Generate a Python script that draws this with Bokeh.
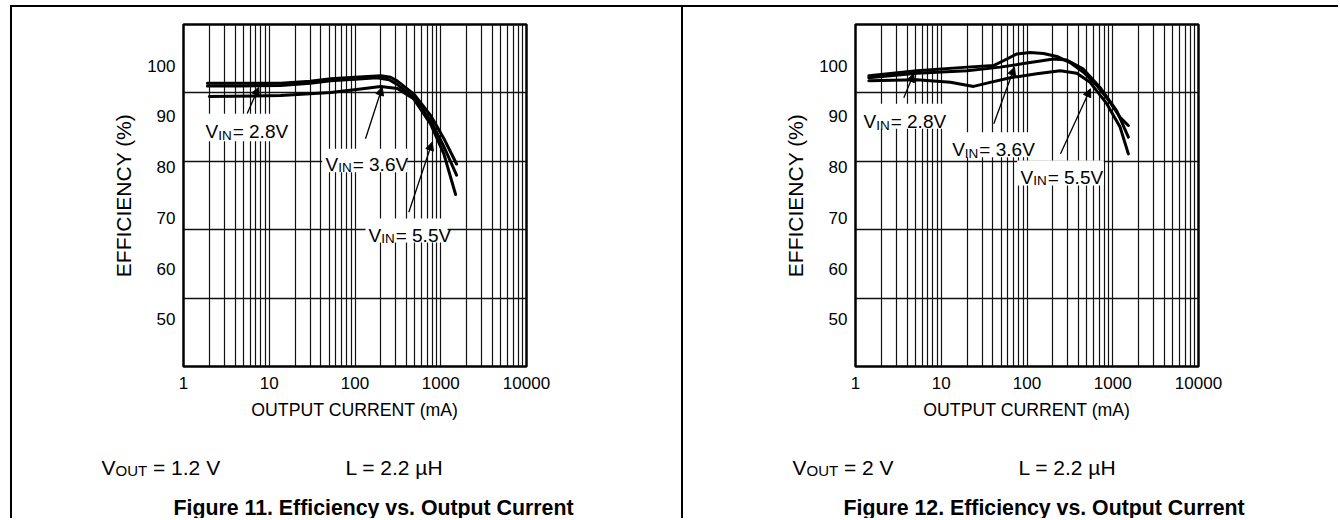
import math
from bokeh.plotting import figure
from bokeh.layouts import row, column
from bokeh.models import (Range1d, FixedTicker, NumeralTickFormatter, Label, Arrow,
                          NormalHead, BoxAnnotation, Spacer)
from bokeh.embed import file_html
from bokeh.resources import INLINE

# ------------------------------------------------------------------ data
X_TICKS = [1, 10, 100, 1000, 10000]
X_TICK_LABELS = ["1", "10", "100", "1000", "10000"]
Y_TICKS = [50, 60, 70, 80, 90, 100]
Y_TICK_LABELS = ["50", "60", "70", "80", "90", "100"]
X_LABEL = "OUTPUT CURRENT (mA)"
Y_LABEL = "EFFICIENCY (%)"
VIN_LABELS = ["2.8V", "3.6V", "5.5V"]

# Figure 11 : VOUT = 1.2 V
fig11_vin28_ma = [1.9, 4.7, 13.6, 30, 52, 100, 200, 260, 310, 490, 760, 1090, 1530]
fig11_vin28_eff = [96.5, 96.5, 96.5, 96.9, 97.4, 97.7, 98.0, 97.7, 97.0, 94.3, 90.2, 85.6, 80.6]
fig11_vin36_ma = [1.9, 4.7, 13.6, 30, 52, 100, 180, 250, 310, 490, 760, 1090, 1530]
fig11_vin36_eff = [96.0, 96.0, 96.1, 96.5, 97.0, 97.3, 97.6, 97.2, 96.3, 93.6, 89.2, 84.0, 78.4]
fig11_vin55_ma = [2.0, 13.6, 52, 116, 199, 312, 486, 760, 1087, 1490]
fig11_vin55_eff = [93.9, 94.1, 94.7, 95.4, 95.9, 95.5, 93.4, 88.5, 82.6, 74.6]

# Figure 12 : VOUT = 2 V
fig12_vin28_ma = [1.43, 5.2, 20, 40.7, 58.3, 76.2, 109, 156, 223, 318, 455, 651, 930, 1217, 1521]
fig12_vin28_eff = [98.0, 99.0, 99.7, 100.0, 101.3, 102.3, 102.6, 102.4, 101.8, 100.6, 98.7, 96.1, 92.8, 89.8, 88.2]
fig12_vin36_ma = [1.43, 5.2, 20, 48.8, 99.7, 204, 291, 455, 711, 1113, 1521]
fig12_vin36_eff = [97.6, 98.5, 99.0, 99.7, 100.5, 101.3, 101.1, 99.3, 95.7, 91.1, 85.9]
fig12_vin55_ma = [1.43, 5.2, 12.8, 23.8, 37.3, 63.7, 130, 244, 381, 544, 851, 1217, 1521]
fig12_vin55_eff = [97.0, 97.2, 96.7, 95.9, 96.7, 97.6, 98.4, 99.0, 98.5, 96.7, 92.5, 87.9, 82.6]

VOUT_TEXTS = ["1.2 V", "2 V"]
L_TEXT = "L = 2.2 \u00b5H"
CAPTIONS = ["Figure 11. Efficiency vs. Output Current",
            "Figure 12. Efficiency vs. Output Current"]

# ------------------------------------------------------------------ layout / style
FONT = "Liberation Sans"
TOP_GAP = 5          # page y of the top rule
RULE = 2             # rule thickness
LEFT_GAP = 10        # page x of the left rule
CONTENT_TOP = TOP_GAP + RULE
MAIN_H = 423         # plot figure height  (page y 7 .. 430)
NOTES_H = 88         # notes figure height (page y 430 .. 518)
FRAME_W = 343
FRAME_H = 342
FRAME_TOP = 24                      # page y of the plot frame top
FRAME_BOTTOM = FRAME_TOP + FRAME_H  # page y of the plot frame bottom
NOTES_BOTTOM = CONTENT_TOP + MAIN_H + NOTES_H
Y_START, Y_END = 40.7, 108.1

AW = {'V': 667, 'I': 278, 'N': 722, 'O': 778, 'U': 722, 'T': 611, 'L': 556, ' ': 278,
      '=': 584, '.': 278, '\u00b5': 576, 'H': 722}
for _d in "0123456789":
    AW[_d] = 556


def tw(s, size):
    return sum(AW.get(c, 556) for c in s) / 1000.0 * size


PANELS = [
    dict(panel_left=12, panel_w=669, frame_left=183,
         boxes=[(202.7, 291.7, 113.3, 140.7), (321.7, 406.7, 148.3, 171.7), (365, 447, 218, 242)],
         labels=[(205, 131), (325, 163.5), (368, 234.6)],
         arrows=[((246.7, 113), (258.3, 86.7)), ((365, 138.3), (381.7, 86.7)),
                 ((408.3, 211.7), (431.7, 141.7))],
         vout_x=101, l_x=345, cap_x=173),
    dict(panel_left=683, panel_w=655, frame_left=855,
         boxes=[(860, 946.7, 103.3, 128.3), (948.3, 1035, 131.7, 156.7), (1016.7, 1103.3, 160, 185)],
         labels=[(863, 121), (951.7, 149), (1020, 176.5)],
         arrows=[((903.3, 97.3), (913.3, 73.3)), ((993.3, 123.3), (1014, 66.7)),
                 ((1060, 153.3), (1090, 88.3))],
         vout_x=792, l_x=1018, cap_x=843),
]

CURVES = [
    [(fig11_vin28_ma, fig11_vin28_eff), (fig11_vin36_ma, fig11_vin36_eff), (fig11_vin55_ma, fig11_vin55_eff)],
    [(fig12_vin28_ma, fig12_vin28_eff), (fig12_vin36_ma, fig12_vin36_eff), (fig12_vin55_ma, fig12_vin55_eff)],
]


def add_label(p, x, y, text, size, bold=False):
    p.add_layout(Label(x=x, y=y, x_units="screen", y_units="screen", text=text,
                       text_font=FONT, text_font_size=f"{size}px",
                       text_font_style="bold" if bold else "normal",
                       text_color="black", text_align="left", text_baseline="alphabetic"))


def add_sub_text(p, x, y, main, sub, rest, size, sub_size, drop, gap):
    add_label(p, x, y, main, size)
    x2 = x + tw(main, size)
    add_label(p, x2, y - drop, sub, sub_size)
    x3 = x2 + tw(sub, sub_size) + gap
    add_label(p, x3, y, rest, size)


def build_main(idx):
    spec = PANELS[idx]
    fl = spec["frame_left"]
    pl = spec["panel_left"]
    pw = spec["panel_w"]

    def sx(px):
        return px - fl

    def sy(py):
        return FRAME_BOTTOM - py

    mbl = fl - pl
    mbt = FRAME_TOP - CONTENT_TOP
    p = figure(width=pw, height=MAIN_H, x_axis_type="log",
               x_range=Range1d(X_TICKS[0], X_TICKS[-1]), y_range=Range1d(Y_START, Y_END),
               output_backend="svg", toolbar_location=None,
               min_border_left=mbl, min_border_right=pw - mbl - FRAME_W,
               min_border_top=mbt, min_border_bottom=MAIN_H - mbt - FRAME_H)
    try:
        p.frame_align = False
    except Exception:
        pass
    p.background_fill_color = "white"
    p.border_fill_color = "white"
    p.outline_line_color = "black"
    p.outline_line_width = 2.5

    xa = p.xaxis[0]
    xa.ticker = FixedTicker(ticks=X_TICKS, minor_ticks=[])
    xa.formatter = NumeralTickFormatter(format="0")
    xa.major_label_overrides = {t: s for t, s in zip(X_TICKS, X_TICK_LABELS)}
    xa.axis_label = X_LABEL
    ya = p.yaxis[0]
    ya.ticker = FixedTicker(ticks=Y_TICKS, minor_ticks=[])
    ya.major_label_overrides = {t: s for t, s in zip(Y_TICKS, Y_TICK_LABELS)}
    ya.axis_label = Y_LABEL

    for ax in (xa, ya):
        ax.axis_line_color = None
        ax.major_tick_line_color = None
        ax.minor_tick_line_color = None
        ax.major_tick_in = 0
        ax.major_tick_out = 0
        ax.major_label_text_font = FONT
        ax.major_label_text_font_size = "17px"
        ax.major_label_text_color = "black"
        ax.axis_label_text_font = FONT
        ax.axis_label_text_font_style = "normal"
        ax.axis_label_text_color = "black"
    xa.major_label_standoff = 10
    xa.axis_label_standoff = 8
    xa.axis_label_text_font_size = "17.7px"
    ya.major_label_standoff = 8
    ya.axis_label_standoff = 9
    ya.axis_label_text_font_size = "21px"

    # grids
    decades = int(round(math.log10(X_TICKS[-1] / X_TICKS[0])))
    xgrid_ticks = []
    for d in range(decades):
        for m in range(1, 10):
            xgrid_ticks.append(X_TICKS[0] * m * 10 ** d)
    xgrid_ticks.append(X_TICKS[-1])
    g = p.xgrid[0]
    g.ticker = FixedTicker(ticks=xgrid_ticks, minor_ticks=[])
    g.grid_line_color = "#111111"
    g.grid_line_width = 1.2
    yg = p.ygrid[0]
    yg.ticker = FixedTicker(ticks=[Y_START + k * (Y_END - Y_START) / 5 for k in range(1, 5)],
                            minor_ticks=[])
    yg.grid_line_color = "#111111"
    yg.grid_line_width = 1.3

    # curves
    for xs, ys in CURVES[idx]:
        p.line(xs, ys, line_color="black", line_width=3, line_join="round", line_cap="round")

    # V_IN annotations
    for (l, r, t, b) in spec["boxes"]:
        p.add_layout(BoxAnnotation(left=sx(l), right=sx(r), top=sy(t), bottom=sy(b),
                                   left_units="screen", right_units="screen",
                                   top_units="screen", bottom_units="screen",
                                   fill_color="white", fill_alpha=1.0, line_color=None))
    for (xp, base), vin in zip(spec["labels"], VIN_LABELS):
        add_sub_text(p, sx(xp), sy(base), "V", "IN", "= " + vin, 19, 13.5, 3.5, 1)
    for (a, b) in spec["arrows"]:
        p.add_layout(Arrow(end=NormalHead(size=8, line_color="black", fill_color="black", line_width=1),
                           x_start=sx(a[0]), y_start=sy(a[1]), x_end=sx(b[0]), y_end=sy(b[1]),
                           start_units="screen", end_units="screen",
                           line_color="black", line_width=1.3))
    return p


def build_notes(idx):
    spec = PANELS[idx]
    pl = spec["panel_left"]
    pw = spec["panel_w"]
    n = figure(width=pw, height=NOTES_H, x_range=Range1d(0, 1), y_range=Range1d(0, 1),
               x_axis_location=None, y_axis_location=None, output_backend="svg",
               toolbar_location=None, min_border=0)
    try:
        n.frame_align = False
    except Exception:
        pass
    n.outline_line_color = None
    n.grid.visible = False
    n.background_fill_color = "white"
    n.border_fill_color = "white"

    def sx(px):
        return px - pl

    def sy(py):
        return NOTES_BOTTOM - py

    add_sub_text(n, sx(spec["vout_x"]), sy(466.5), "V", "OUT", "= " + VOUT_TEXTS[idx], 21, 15, 3.5,
                 tw(" ", 21))
    add_label(n, sx(spec["l_x"]), sy(466.5), L_TEXT, 21)
    add_label(n, sx(spec["cap_x"]), sy(507), CAPTIONS[idx], 21.3, bold=True)
    return n


def rule(w, h):
    return Spacer(width=w, height=h, styles={"background-color": "black"})


body_h = MAIN_H + NOTES_H
panel1 = column(build_main(0), build_notes(0), spacing=0)
panel2 = column(build_main(1), build_notes(1), spacing=0)
total_w = LEFT_GAP + RULE + PANELS[0]["panel_w"] + RULE + PANELS[1]["panel_w"]

layout = column(
    Spacer(width=total_w, height=TOP_GAP),
    row(Spacer(width=LEFT_GAP, height=RULE), rule(total_w - LEFT_GAP, RULE), spacing=0),
    row(Spacer(width=LEFT_GAP, height=body_h), rule(RULE, body_h), panel1,
        rule(RULE, body_h), panel2, spacing=0),
    spacing=0,
)
open("out.html", "w").write(file_html(layout, INLINE))
